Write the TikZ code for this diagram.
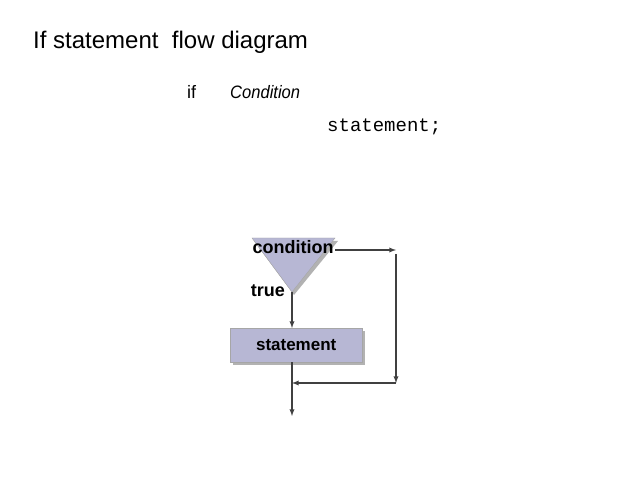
\documentclass[tikz,border=0pt]{standalone}
\usepackage{fontspec}
\setmainfont{Liberation Sans}
\newfontfamily\monofont{Liberation Mono}
\usetikzlibrary{positioning}
\tikzset{
  flowfill/.style={fill=blue!25!gray!45, draw=gray!70},
  flowline/.style={line width=1.3pt, draw=black!75, -latex},
  boldlabel/.style={font=\bfseries\fontsize{18}{20}\selectfont, inner sep=0pt}
}
\begin{document}
\begin{tikzpicture}[x=1pt,y=-1pt]
\useasboundingbox (0,0) rectangle (638,478);
% titles
\node (title) [anchor=west, font=\fontsize{24}{28}\selectfont, inner sep=0pt] at (33,42) {If statement\ \ flow diagram};
\node (kwif) [anchor=west, font=\fontsize{18}{20}\selectfont, inner sep=0pt] at (187,92) {if};
\node (cond) [anchor=west, font=\itshape\fontsize{18}{20}\selectfont, inner sep=0pt, xscale=0.92] at (230,92) {Condition};
\node (stmt) [anchor=west, font=\monofont\fontsize{19}{22}\selectfont, inner sep=0pt] at (327,127) {statement;};
% decision triangle
\coordinate (tl) at (252,238);
\coordinate (tr) at (335,238);
\coordinate (apex) at (292,292);
\fill[gray!60] (254,241) -- (338,241) -- (294,295) -- cycle;
\path[flowfill] (tl) -- (tr) -- (apex) -- cycle;
\node (condition) [boldlabel] at (293,247) {condition};
\node (true) [boldlabel] at (268,291) {true};
% statement box
\fill[gray!60] (233,331) rectangle (365,365);
\node (box) [flowfill, minimum width=132pt, minimum height=34pt, anchor=north west, inner sep=0pt] at (230,328) {};
\node (boxtext) [boldlabel, font=\bfseries\fontsize{17}{19}\selectfont] at (box.center) {statement};
% connectors
\coordinate (r1) at (396,250);
\coordinate (r2) at (396,383);
\coordinate (join) at (292,383);
\coordinate (exit) at (292,416);
\draw[flowline] (335,250) -- (r1);
\draw[flowline] (396,254) -- (r2);
\draw[flowline] (r2) -- (join);
\draw[flowline] (apex) -- (box.north -| apex);
\draw[flowline] (box.south -| apex) -- (exit);
\end{tikzpicture}
\end{document}
